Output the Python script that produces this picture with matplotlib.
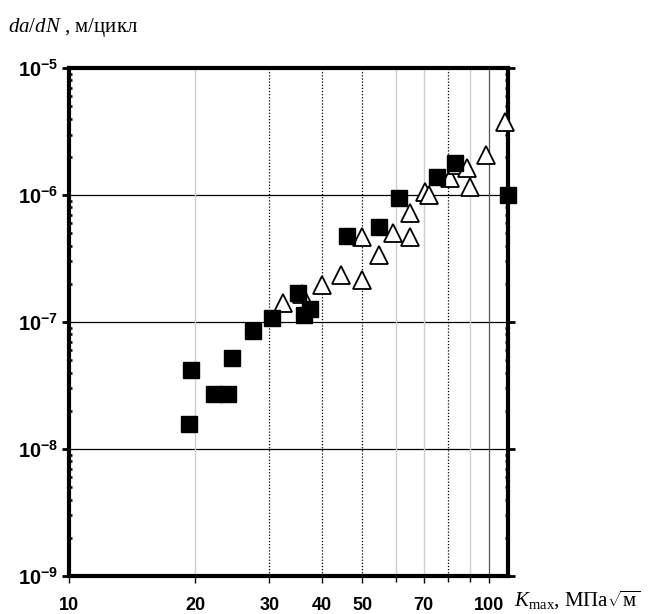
import matplotlib
matplotlib.use("Agg")
import matplotlib.pyplot as plt
from matplotlib.ticker import FixedLocator, NullFormatter, LogLocator

plt.rcParams['mathtext.fontset'] = 'custom'
plt.rcParams['mathtext.rm'] = 'Liberation Serif'
plt.rcParams['mathtext.it'] = 'Liberation Serif:italic'
plt.rcParams['mathtext.bf'] = 'Liberation Sans:bold'

# filled squares
sq_k = [19.3, 19.5, 22.1, 23.9, 24.5, 27.4, 30.5, 35.2, 36.2, 37.6, 46.0, 54.8, 61.1, 75.2, 83.3, 111.0]
sq_v = [1.57e-8, 4.2e-8, 2.7e-8, 2.7e-8, 5.2e-8, 8.5e-8, 1.07e-7, 1.69e-7, 1.14e-7, 1.26e-7,
        4.8e-7, 5.6e-7, 9.5e-7, 1.39e-6, 1.79e-6, 1.0e-6]

# open triangles
tr_k = [32.4, 35.8, 40.1, 44.5, 49.9, 49.9, 54.8, 59.2, 64.9, 64.9, 70.5, 72.0,
        80.8, 84.0, 88.7, 90.2, 98.4, 109.0]
tr_v = [1.41e-7, 1.66e-7, 1.95e-7, 2.34e-7, 2.14e-7, 4.7e-7, 3.4e-7, 5.0e-7, 4.7e-7, 7.2e-7,
        1.06e-6, 1.0e-6, 1.36e-6, 1.72e-6, 1.63e-6, 1.16e-6, 2.06e-6, 3.76e-6]

x_ticks = [10, 20, 30, 40, 50, 70, 100]
y_ticks = [1e-9, 1e-8, 1e-7, 1e-6, 1e-5]
y_exp = [-9, -8, -7, -6, -5]

fig = plt.figure(figsize=(6.72, 6.14), dpi=100)
ax = fig.add_axes([0.1027, 0.062, 0.653, 0.827])
ax.set_xscale('log')
ax.set_yscale('log')
ax.set_xlim(10, 111)
ax.set_ylim(1e-9, 1e-5)

# grid lines
for v in [1e-8, 1e-7, 1e-6]:
    ax.axhline(v, color='black', lw=0.9, zorder=1)
for v in [20, 60, 70, 90]:
    ax.axvline(v, color='#cfcfcf', lw=1.0, zorder=1)
for v in [30, 40, 50, 80]:
    ax.axvline(v, color='black', lw=0.9, ls=(0, (1, 1.5)), zorder=1)
ax.axvline(100, color='#555555', lw=0.9, zorder=1)

ax.plot(tr_k, tr_v, '^', ms=13, mfc='white', mec='black', mew=1.3, ls='none', zorder=3, clip_on=False)
ax.plot(sq_k, sq_v, 's', ms=11.5, mfc='black', mec='black', ls='none', zorder=4, clip_on=False)

for s in ax.spines.values():
    s.set_linewidth(3)

ax.xaxis.set_major_locator(FixedLocator(x_ticks))
ax.set_xticklabels([str(t) for t in x_ticks])
ax.xaxis.set_minor_locator(FixedLocator([60, 80, 90]))
ax.xaxis.set_minor_formatter(NullFormatter())
ax.tick_params(axis='x', which='major', direction='out', length=5, width=1, labelsize=13, pad=10)
ax.tick_params(axis='x', which='minor', direction='out', length=4, width=1)

ax.yaxis.set_major_locator(FixedLocator(y_ticks))
ax.set_yticklabels([r'$\mathbf{10^{%d}}$' % e for e in y_exp])
ax.yaxis.set_minor_locator(LogLocator(base=10, subs=range(2, 10)))
ax.yaxis.set_minor_formatter(NullFormatter())
ax.tick_params(axis='y', which='major', direction='out', length=5, width=2, labelsize=14.5,
               left=True, right=True, pad=3)
ax.tick_params(axis='y', which='minor', direction='in', length=2.5, width=1.8, left=True, right=True)

for lab in ax.get_xticklabels():
    lab.set_fontweight('bold')
    lab.set_family('Liberation Sans')

fig.text(0.012, 0.955, r'$da/dN$ , м/цикл', fontsize=15, family='Liberation Serif', va='center')
fig.text(0.765, 0.022, r'$K_{\rm max}$, МПа$\sqrt{\rm м}$', fontsize=15, family='Liberation Serif', va='center')

fig.savefig('out.png', dpi=100)
